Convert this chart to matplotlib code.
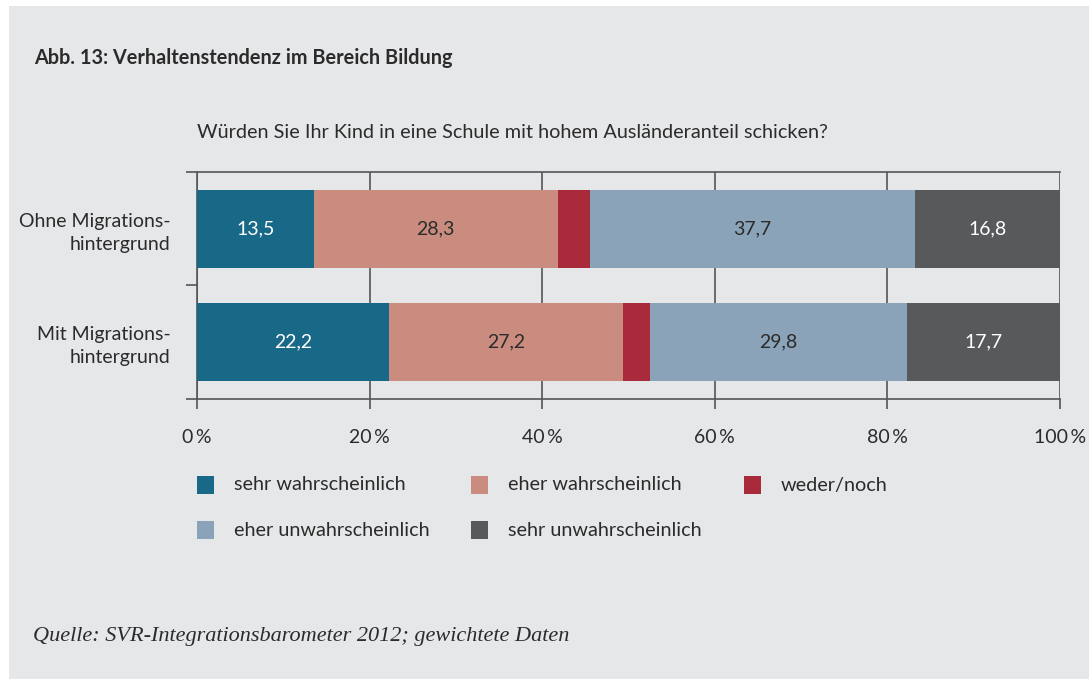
import matplotlib
matplotlib.use("Agg")
import matplotlib.pyplot as plt
from matplotlib.patches import Rectangle
import numpy as np

# ---------------- data ----------------
groups = ["Ohne Migrations-\nhintergrund", "Mit Migrations-\nhintergrund"]
categories = ["sehr wahrscheinlich", "eher wahrscheinlich", "weder/noch",
              "eher unwahrscheinlich", "sehr unwahrscheinlich"]
sehr_wahr = [13.5, 22.2]
eher_wahr = [28.3, 27.2]
weder_noch = [3.7, 3.1]
eher_unwahr = [37.7, 29.8]
sehr_unwahr = [16.8, 17.7]
x_ticks = [0, 20, 40, 60, 80, 100]
x_tick_labels = ["0\u2009%", "20\u2009%", "40\u2009%", "60\u2009%", "80\u2009%", "100\u2009%"]

title = "Abb. 13: Verhaltenstendenz im Bereich Bildung"
subtitle = "Würden Sie Ihr Kind in eine Schule mit hohem Ausländeranteil schicken?"
source = "Quelle: SVR-Integrationsbarometer 2012; gewichtete Daten"

# ---------------- style ----------------
colors = ["#186987", "#cb8c80", "#a82a3b", "#8ba3b8", "#58595b"]
label_colors = ["white", "#2b2b2b", None, "#2b2b2b", "white"]
bg = "#e6e7e9"
line_col = "#555555"
txt = "#2b2b2b"
SANS = ["Lato", "DejaVu Sans"]
plt.rcParams["font.family"] = SANS

W, H = 1089, 679
fig = plt.figure(figsize=(W / 100, H / 100), dpi=100, facecolor="white")


def fx(px):
    return px / W


def fy(py):
    return 1 - py / H


# gray panel
fig.patches.append(Rectangle((fx(9), 0), 1 - fx(9), fy(6), transform=fig.transFigure,
                             facecolor=bg, edgecolor="none", zorder=-10))

ax = fig.add_axes([fx(197), fy(398.5), fx(1060) - fx(197), fy(172) - fy(398.5)])
ax.set_zorder(1)
ax.patch.set_alpha(0)

series = [sehr_wahr, eher_wahr, weder_noch, eher_unwahr, sehr_unwahr]
ypos = np.arange(len(groups))
left = np.zeros(len(groups))
for vals, col, lc in zip(series, colors, label_colors):
    vals = np.array(vals)
    ax.barh(ypos, vals, left=left, height=0.69, color=col, edgecolor="none", zorder=3)
    if lc is not None:
        for y, l, v in zip(ypos, left, vals):
            ax.text(l + v / 2, y, f"{v:.1f}".replace(".", ","), ha="center", va="center",
                    color=lc, fontsize=14, zorder=4)
    left += vals

ax.set_xlim(0, 100)
ax.set_ylim(1.5, -0.5)
ax.set_xticks(x_ticks)
ax.set_xticklabels(x_tick_labels, fontsize=14, color=txt)
ax.tick_params(axis="x", length=7, width=1.2, color=line_col, pad=15)
ax.set_yticks(ypos)
ax.set_yticklabels(groups, fontsize=14, color=txt, ha="right", linespacing=1.4)
ax.tick_params(axis="y", which="major", length=0, pad=19)
ax.set_yticks([-0.5, 0.5, 1.5], minor=True)
ax.tick_params(axis="y", which="minor", length=8, width=1.2, color=line_col)
ax.grid(axis="x", color=line_col, linewidth=1.2, zorder=1)
ax.set_axisbelow(True)
for s in ["top", "bottom", "left", "right"]:
    ax.spines[s].set_color(line_col)
    ax.spines[s].set_linewidth(1.2)
ax.spines["right"].set_visible(False)

# texts
fig.text(fx(34), fy(58), title, fontsize=14.3, fontweight="bold", color=txt, va="center", ha="left")
fig.text(fx(197), fy(133), subtitle, fontsize=14.3, color=txt, va="center", ha="left")
fig.text(fx(33), fy(637), source, fontsize=16, style="italic", family=["Liberation Serif"],
         color=txt, va="center", ha="left")

# legend (manual)
col_x = [197, 471, 744]
row_y = [485, 530]
order = [(0, 0), (0, 1), (0, 2), (1, 0), (1, 1)]
for cat, col, (r, c) in zip(categories, colors, order):
    x0, yc = col_x[c], row_y[r]
    fig.patches.append(Rectangle((fx(x0), fy(yc + 9)), 17 / W, 18 / H, transform=fig.transFigure,
                                 facecolor=col, edgecolor="none", zorder=2))
    fig.text(fx(x0 + 37), fy(yc), cat, fontsize=14.3, color=txt, va="center", ha="left")

fig.savefig("out.png", dpi=100, facecolor="white")
